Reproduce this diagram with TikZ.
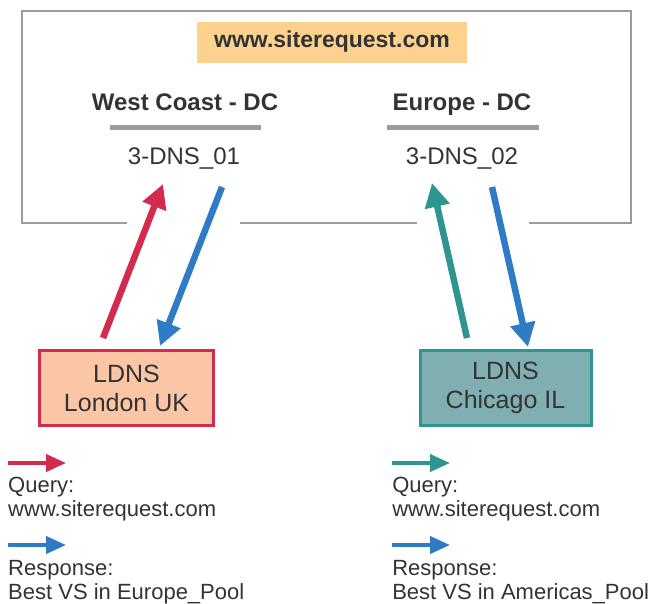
\documentclass[tikz,border=0pt]{standalone}
\usepackage{fontspec}
\setmainfont{Liberation Sans}
\usetikzlibrary{arrows.meta}
\definecolor{qred}{HTML}{D22B4E}
\definecolor{qteal}{HTML}{2E9590}
\definecolor{rblue}{HTML}{2F7BC6}
\definecolor{framegray}{HTML}{9B9B9B}
\definecolor{txtgray}{HTML}{333333}
\definecolor{siteorange}{HTML}{FCD28E}
\definecolor{londonfill}{HTML}{FBC6A5}
\definecolor{chicagofill}{HTML}{80AFB2}
\tikzset{every picture/.style={line width=0.5pt}}
\tikzstyle{flow}=[line width=6.5pt,-{Triangle[width=24pt,length=24pt]}]
\tikzstyle{keyarrow}=[line width=4pt,-{Triangle[width=17pt,length=20pt]}]
\tikzstyle{ldns}=[draw,line width=3pt,minimum height=75pt,align=center,font=\fontsize{25}{29}\selectfont]
\tikzstyle{keytext}=[anchor=base west,inner sep=0pt,font=\fontsize{22}{24}\selectfont]
\tikzstyle{dclabel}=[anchor=base,inner sep=0pt,font=\fontsize{24}{28}\selectfont]
\begin{document}
\begin{tikzpicture}[x=1pt,y=-1pt,every node/.append style={text=txtgray}]
\useasboundingbox (0,0) rectangle (650,603);
% frame round the two data centres
\draw[framegray,line width=2pt] (127,223) -- (22,223) -- (22,11) -- (631,11) -- (631,223) -- (529,223);
\draw[framegray,line width=2pt] (240,223) -- (417,223);
\node[fill=siteorange,minimum width=270pt,minimum height=41pt,font=\fontsize{23}{28}\selectfont\bfseries] (site) at (332,42) {www.siterequest.com};
\node[dclabel,font=\fontsize{24}{28}\selectfont\bfseries] (west) at (185,110) {West Coast - DC};
\node[dclabel,font=\fontsize{24}{28}\selectfont\bfseries] (europe) at (462,110) {Europe - DC};
\draw[framegray,line width=5pt] (110,127) -- (261,127);
\draw[framegray,line width=5pt] (387,127) -- (539,127);
\node[dclabel] (dnsA) at (184,164) {3-DNS\_01};
\node[dclabel] (dnsB) at (462,164) {3-DNS\_02};
% local DNS servers
\node[ldns,draw=qred,fill=londonfill,minimum width=174pt] (london) at (126.5,388) {LDNS\\London UK};
\node[ldns,draw=qteal,fill=chicagofill,minimum width=171pt] (chicago) at (505.5,388) {LDNS\\Chicago IL};
\coordinate (lonq) at (103,338);
\coordinate (dnsAq) at (163,184);
\coordinate (dnsAr) at (222,187);
\coordinate (lonr) at (160,346);
\coordinate (chiq) at (467,338);
\coordinate (dnsBq) at (432,183);
\coordinate (dnsBr) at (492,187);
\coordinate (chir) at (528,347);
\path[flow]
(lonq) edge[qred] (dnsAq)
(dnsAr) edge[rblue] (lonr)
(chiq) edge[qteal] (dnsBq)
(dnsBr) edge[rblue] (chir);
% legend
\coordinate (keyA1) at (8,463);
\coordinate (keyA2) at (66,463);
\coordinate (keyB1) at (8,545);
\coordinate (keyB2) at (66,545);
\coordinate (keyC1) at (392,463);
\coordinate (keyC2) at (450,463);
\coordinate (keyD1) at (392,545);
\coordinate (keyD2) at (450,545);
\path[keyarrow]
(keyA1) edge[qred] (keyA2)
(keyB1) edge[rblue] (keyB2)
(keyC1) edge[qteal] (keyC2)
(keyD1) edge[rblue] (keyD2);
\node[keytext] (qA) at (8,492.5) {Query:};
\node[keytext] (qAsite) at (8,516.5) {www.siterequest.com};
\node[keytext] (rA) at (8,575) {Response:};
\node[keytext] (rApool) at (8,599) {Best VS in Europe\_Pool};
\node[keytext] (qB) at (392,492.5) {Query:};
\node[keytext] (qBsite) at (392,516.5) {www.siterequest.com};
\node[keytext] (rB) at (392,575) {Response:};
\node[keytext] (rBpool) at (392,599) {Best VS in Americas\_Pool};
\end{tikzpicture}
\end{document}
